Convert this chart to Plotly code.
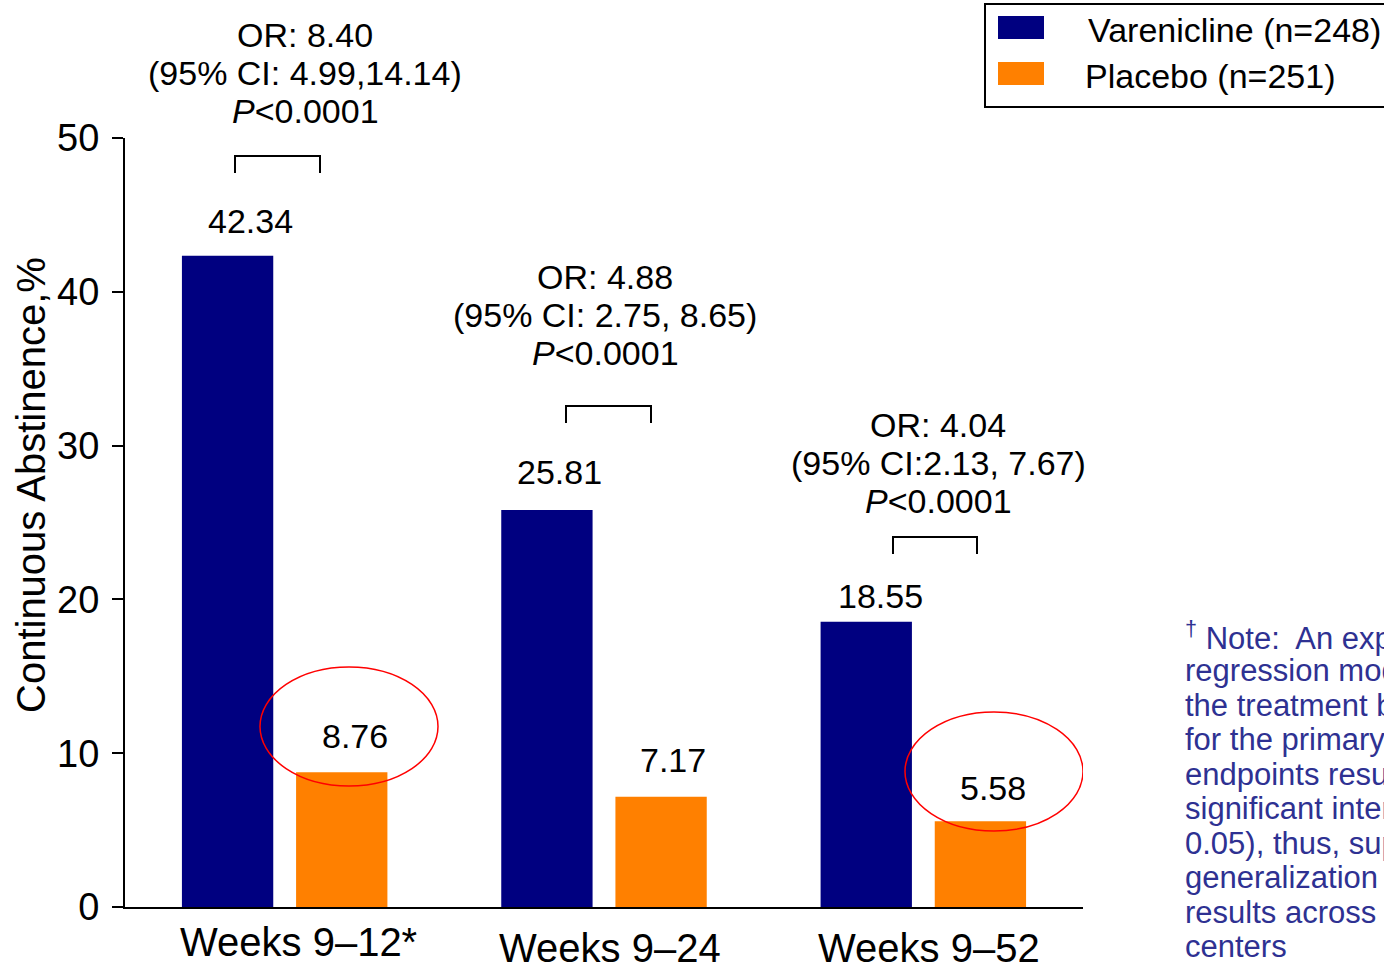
import plotly.graph_objects as go

# ---------------- data ----------------
categories = ["Weeks 9–12*", "Weeks 9–24", "Weeks 9–52"]
varenicline = [42.34, 25.81, 18.55]
placebo = [8.76, 7.17, 5.58]
series_names = ["Varenicline (n=248)", "Placebo (n=251)"]
or_text = [
    ["OR: 8.40", "(95% CI: 4.99,14.14)", "<i>P</i>&lt;0.0001"],
    ["OR: 4.88", "(95% CI: 2.75, 8.65)", "<i>P</i>&lt;0.0001"],
    ["OR: 4.04", "(95% CI:2.13, 7.67)", "<i>P</i>&lt;0.0001"],
]
y_ticks = [0, 10, 20, 30, 40, 50]
y_title = "Continuous Abstinence,%"
note_lines = [
    "<sup>†</sup> Note:  An exploratory logistic",
    "regression model of",
    "the treatment by center",
    "for the primary and secondary",
    "endpoints resulted in no",
    "significant interaction (P >",
    "0.05), thus, supporting",
    "generalization of the",
    "results across all",
    "centers",
]

# ---------------- style / layout ----------------
W, H = 1384, 967
L, R, T, B = 125, 1083, 138, 907
BLUE = "#000080"
ORANGE = "#FF8000"
NOTE_BLUE = "#2E3192"
FONT = "Liberation Sans, Arial, sans-serif"


def xd(px):  # pixel -> category-axis coordinate
    return (px - L) / ((R - L) / 3) - 0.5


def yd(py):  # pixel -> y data
    return (B - py) / ((B - T) / 50)


def xp(px):  # pixel -> paper x
    return (px - L) / (R - L)


def yp(py):  # pixel -> paper y
    return (B - py) / (B - T)


fig = go.Figure()
fig.add_trace(go.Bar(x=categories, y=varenicline, name=series_names[0],
                     marker=dict(color=BLUE, line=dict(width=0))))
fig.add_trace(go.Bar(x=categories, y=placebo, name=series_names[1],
                     marker=dict(color=ORANGE, line=dict(width=0))))

annotations = []
shapes = []

# value labels
slot = 57
label_dx = [[23, 13], [12, 12], [14, 13]]
label_dy = [35, 36, 38, 37, 26, 33]
k = 0
for i, cat in enumerate(categories):
    for j, vals in enumerate([varenicline, placebo]):
        annotations.append(dict(
            x=cat, y=vals[i], xref="x", yref="y",
            text=f"{vals[i]:.2f}", showarrow=False,
            xshift=(-slot if j == 0 else slot) + label_dx[i][j],
            yshift=label_dy[k], font=dict(size=34, color="black", family=FONT)))
        k += 1

# OR text blocks (one annotation per line for tight line spacing)
or_cx = [305, 605, 938]
or_top = [35, 277, 425]
for i, lines in enumerate(or_text):
    for n, line in enumerate(lines):
        annotations.append(dict(
            x=xp(or_cx[i]), y=yp(or_top[i] + 38 * n), xref="paper", yref="paper",
            text=line, showarrow=False, xanchor="center", yanchor="middle",
            font=dict(size=34, color="black", family=FONT)))

# brackets
br = [(235, 320, 156), (566, 651, 406), (893, 977, 537)]
for x0, x1, yt in br:
    shapes.append(dict(type="path", xref="x", yref="y",
                       path=f"M {xd(x0)},{yd(yt + 17)} L {xd(x0)},{yd(yt)} L {xd(x1)},{yd(yt)} L {xd(x1)},{yd(yt + 17)}",
                       line=dict(color="black", width=2)))

# red ellipses
for x0, x1, y0, y1 in [(260, 438, 667, 786), (905, 1083, 712, 831)]:
    shapes.append(dict(type="circle", xref="x", yref="y",
                       x0=xd(x0), x1=xd(x1), y0=yd(y1), y1=yd(y0),
                       line=dict(color="#FF0000", width=1.5)))

# category labels
cat_cx = [298, 610, 929]
cat_cy = [942, 948, 948]
for i, cat in enumerate(categories):
    annotations.append(dict(
        x=xp(cat_cx[i]), y=yp(cat_cy[i]), xref="paper", yref="paper",
        text=cat, showarrow=False, xanchor="center", yanchor="middle",
        font=dict(size=40, color="black", family=FONT)))

# y-axis title
annotations.append(dict(
    x=xp(31), y=yp(485), xref="paper", yref="paper", text=y_title,
    textangle=-90, showarrow=False, xanchor="center", yanchor="middle",
    font=dict(size=40, color="black", family=FONT)))

# manual legend
shapes.append(dict(type="rect", xref="paper", yref="paper",
                   x0=xp(985), x1=xp(1392), y0=yp(107), y1=yp(4),
                   line=dict(color="black", width=2), fillcolor="white"))
for (c, ty, tx, name) in [(BLUE, 28, 1086, series_names[0]), (ORANGE, 74, 1083, series_names[1])]:
    shapes.append(dict(type="rect", xref="paper", yref="paper",
                       x0=xp(998), x1=xp(1044), y0=yp(ty + 11), y1=yp(ty - 12),
                       line=dict(width=0), fillcolor=c))
    annotations.append(dict(x=xp(tx), y=yp(ty + 2), xref="paper", yref="paper",
                            text=name, showarrow=False, xanchor="left", yanchor="middle",
                            font=dict(size=34, color="black", family=FONT)))

# note text
for n, line in enumerate(note_lines):
    annotations.append(dict(x=xp(1183), y=yp(636 + 34.5 * n), xref="paper", yref="paper",
                            text=line, showarrow=False, xanchor="left", yanchor="middle",
                            font=dict(size=31, color=NOTE_BLUE, family=FONT)))

fig.update_layout(
    width=W, height=H,
    margin=dict(l=L, r=W - R, t=T, b=H - B, pad=0),
    paper_bgcolor="white", plot_bgcolor="white",
    barmode="group", bargap=0.285, bargroupgap=0.2,
    showlegend=False,
    font=dict(family=FONT, color="black"),
    annotations=annotations, shapes=shapes,
    xaxis=dict(showticklabels=False, ticks="", showline=True, linecolor="black",
               linewidth=2, showgrid=False, zeroline=False, range=[-0.5, 2.5],
               fixedrange=True),
    yaxis=dict(range=[0, 50], tickvals=y_ticks, ticks="outside", ticklen=11,
               tickwidth=2, tickcolor="black", showline=True, linecolor="black",
               linewidth=2, showgrid=False, zeroline=False,
               tickfont=dict(size=38, color="black", family=FONT),
               ticklabelstandoff=5,
               automargin=False, fixedrange=True),
)

fig.write_html("out.html", config={"displayModeBar": False},
               post_script="document.body.style.margin='0';")
